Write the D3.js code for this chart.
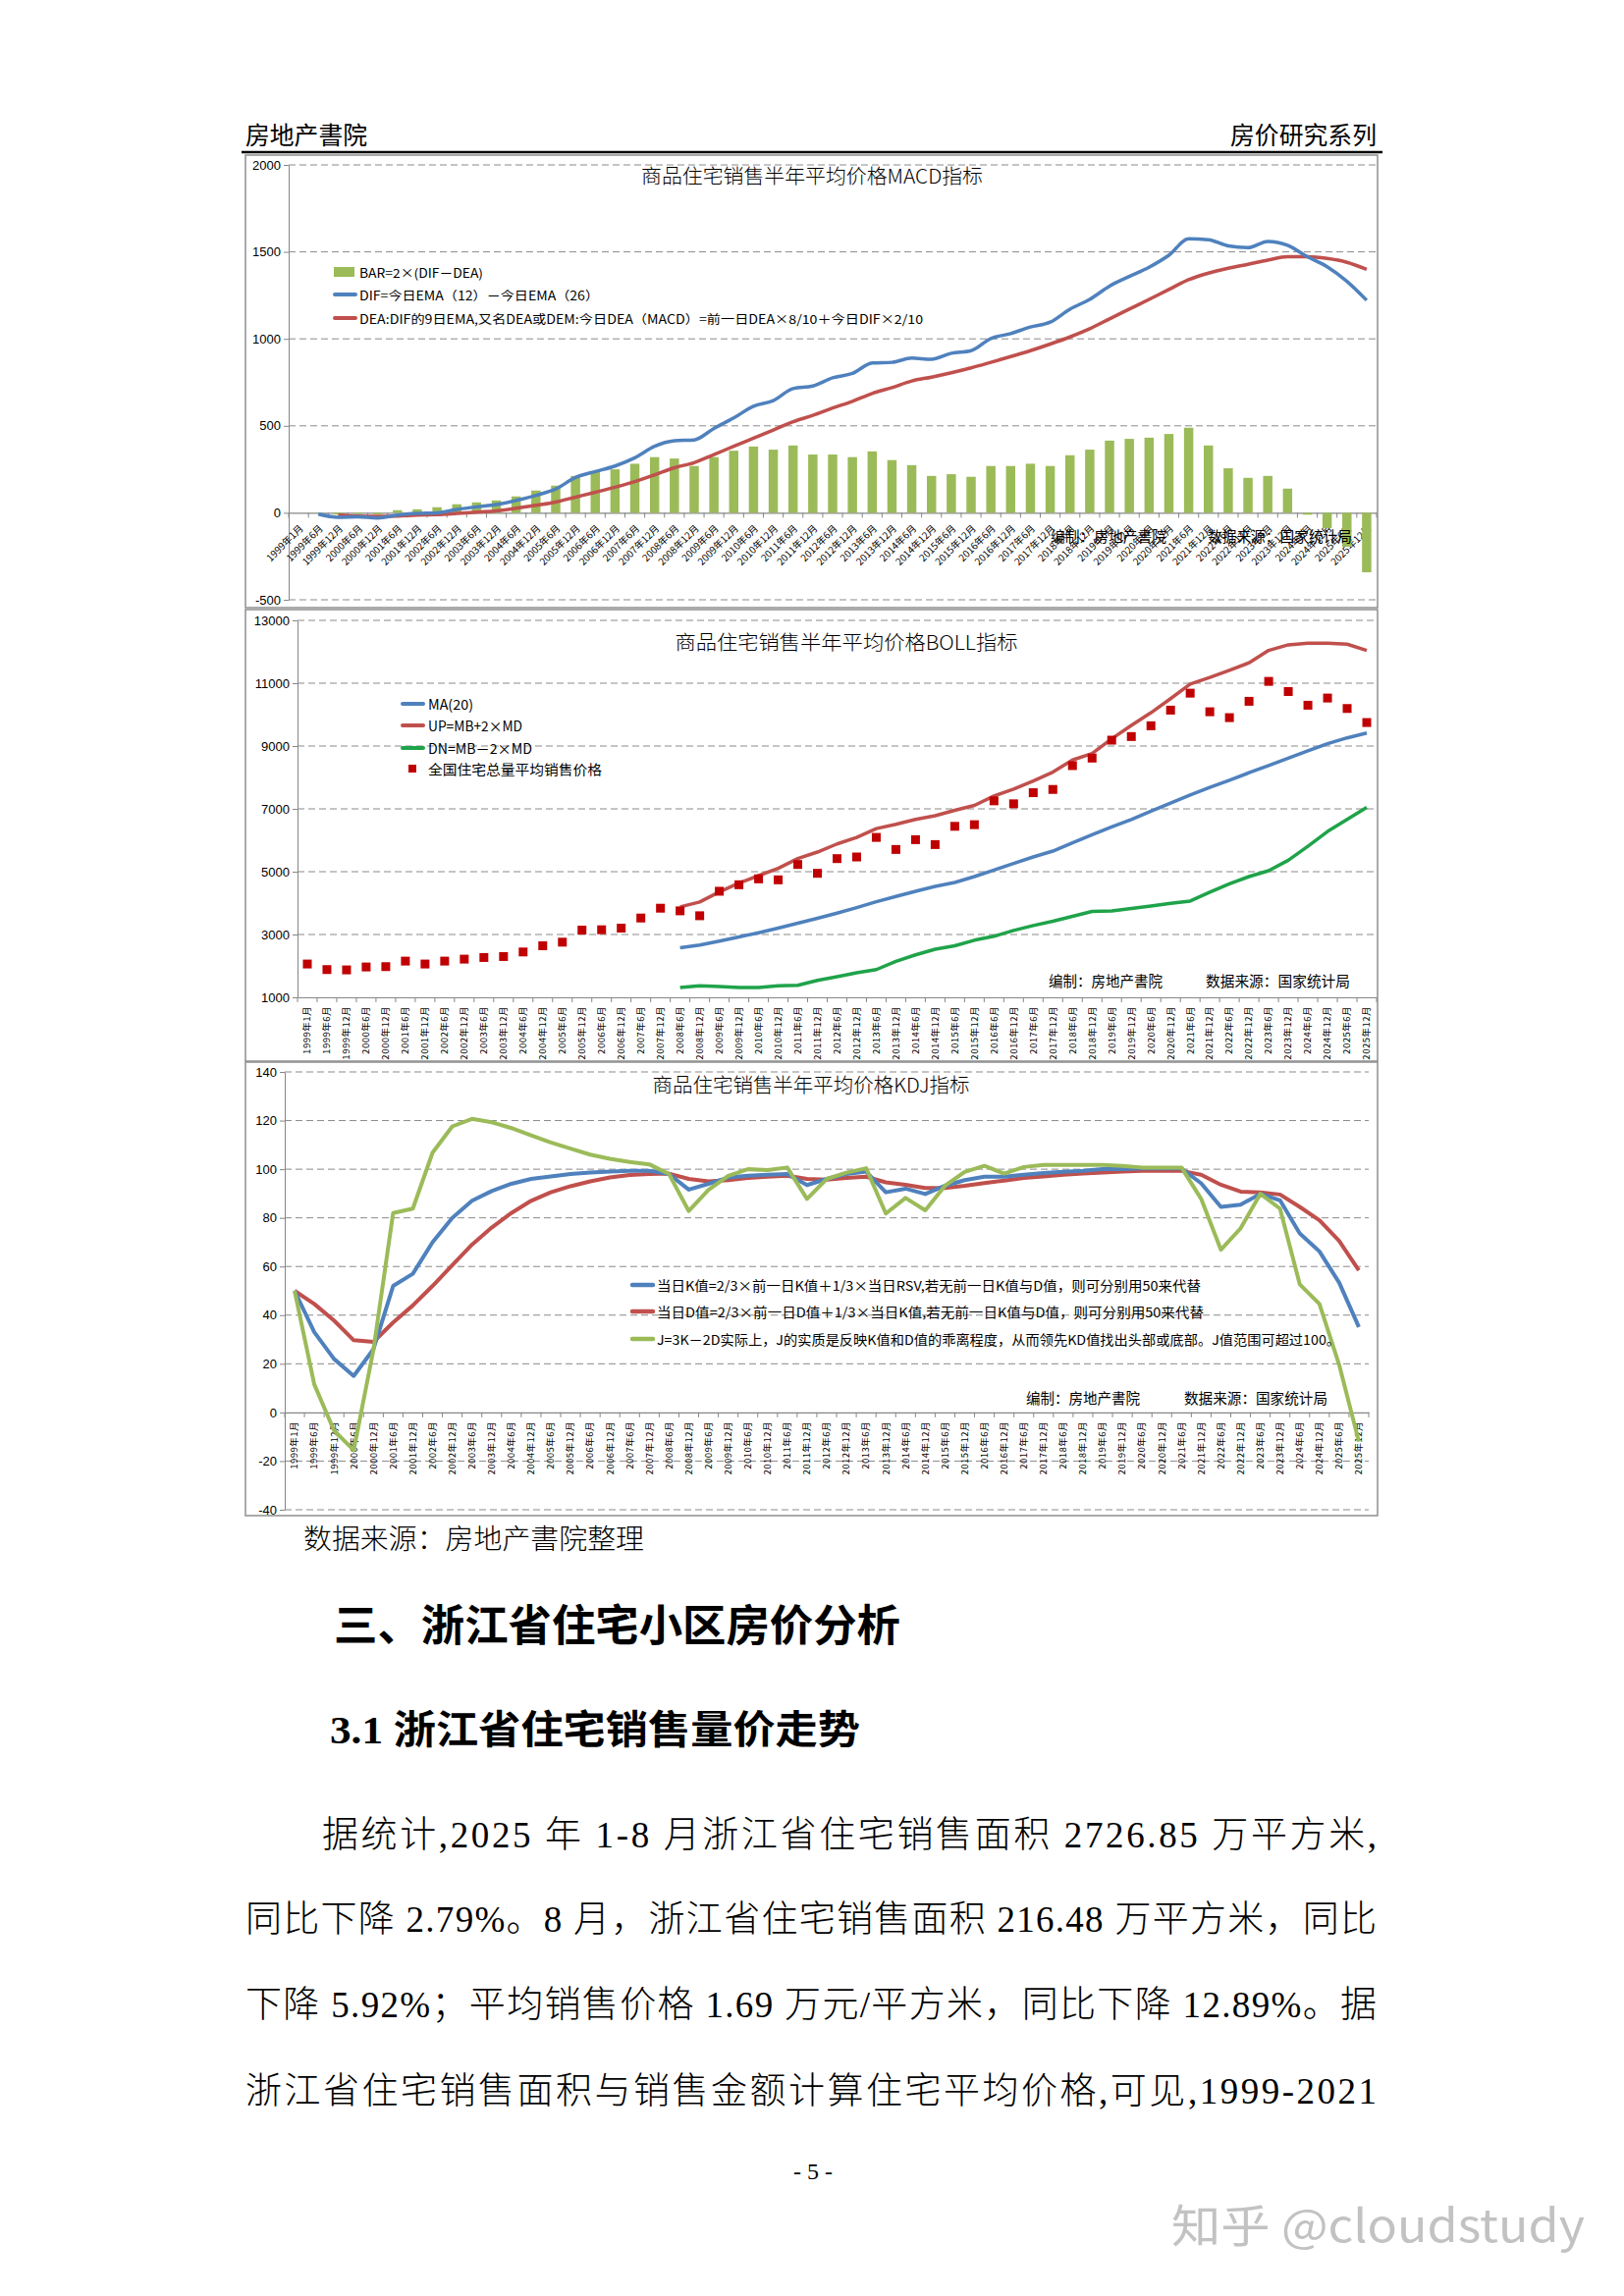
<!DOCTYPE html>
<html><head><meta charset="utf-8">
<script src="https://cdn.jsdelivr.net/npm/d3@7"></script>
<style>
html,body{margin:0;padding:0;background:#fff;}
svg{display:block;}
text{font-family:"Noto Sans CJK SC","Liberation Sans",sans-serif;fill:#000;}
</style></head><body>
<svg id="page" width="1654" height="2339"></svg>
<script>
const categories = ["1999年1月","1999年6月","1999年12月","2000年6月","2000年12月","2001年6月","2001年12月","2002年6月","2002年12月","2003年6月","2003年12月","2004年6月","2004年12月","2005年6月","2005年12月","2006年6月","2006年12月","2007年6月","2007年12月","2008年6月","2008年12月","2009年6月","2009年12月","2010年6月","2010年12月","2011年6月","2011年12月","2012年6月","2012年12月","2013年6月","2013年12月","2014年6月","2014年12月","2015年6月","2015年12月","2016年6月","2016年12月","2017年6月","2017年12月","2018年6月","2018年12月","2019年6月","2019年12月","2020年6月","2020年12月","2021年6月","2021年12月","2022年6月","2022年12月","2023年6月","2023年12月","2024年6月","2024年12月","2025年6月","2025年12月"];

// MACD chart
const macdBar = [null,-2,-10,-6,-8,15,20,32,49,60,71,94,128,156,212,240,250,282,320,312,269,320,357,381,363,387,335,335,320,353,303,274,212,222,207,269,269,282,269,331,363,415,425,432,453,489,387,256,201,212,139,-11,-88,-195,-342];
const macdDIF = [null,-8,-26,-23,-30,-13,-4,0,19,34,47,71,100,137,203,237,269,316,382,414,419,485,545,613,645,714,729,776,801,861,865,889,883,917,932,1002,1030,1068,1096,1171,1227,1303,1359,1412,1481,1575,1570,1534,1524,1560,1538,1472,1415,1331,1222];
const macdDEA = [null,null,-13,-19,-21,-19,-13,-11,-4,4,11,26,43,62,90,118,147,179,218,259,288,335,382,429,476,523,560,602,641,686,720,758,780,805,833,865,898,932,970,1011,1058,1115,1171,1227,1284,1340,1378,1406,1429,1453,1472,1472,1462,1440,1400];
const macdTicks = [-500,0,500,1000,1500,2000];
const macdLegend = ["BAR=2×(DIF－DEA)","DIF=今日EMA（12）－今日EMA（26）","DEA:DIF的9日EMA,又名DEA或DEM:今日DEA（MACD）=前一日DEA×8/10＋今日DIF×2/10"];

// BOLL chart
const bollPrice = [2060,1883,1873,1966,1977,2153,2060,2153,2216,2268,2299,2444,2642,2756,3140,3151,3203,3525,3837,3753,3597,4377,4584,4771,4740,5229,4948,5416,5468,6091,5707,6019,5863,6444,6496,7255,7161,7514,7618,8377,8616,9187,9302,9645,10143,10683,10091,9904,10424,11058,10735,10299,10528,10195,9748];
const bollMA = [null,null,null,null,null,null,null,null,null,null,null,null,null,null,null,null,null,null,null,2579,2662,2787,2922,3057,3203,3359,3515,3681,3857,4044,4210,4377,4530,4657,4844,5052,5260,5468,5655,5915,6174,6424,6663,6923,7182,7442,7681,7910,8149,8377,8616,8845,9073,9260,9416];
const bollUP = [null,null,null,null,null,null,null,null,null,null,null,null,null,null,null,null,null,null,null,3878,4034,4356,4637,4875,5104,5416,5624,5883,6091,6372,6507,6663,6780,6954,7110,7411,7629,7889,8169,8554,8762,9229,9655,10060,10507,10974,11182,11410,11649,12044,12221,12273,12273,12242,12044];
const bollDN = [null,null,null,null,null,null,null,null,null,null,null,null,null,null,null,null,null,null,null,1312,1364,1343,1312,1312,1364,1384,1540,1655,1779,1883,2143,2351,2530,2642,2818,2943,3130,3286,3421,3577,3733,3753,3826,3909,3992,4065,4346,4616,4844,5031,5364,5811,6278,6663,7047];
const bollTicks = [1000,3000,5000,7000,9000,11000,13000];
const bollLegend = ["MA(20)","UP=MB+2×MD","DN=MB－2×MD","全国住宅总量平均销售价格"];

// KDJ chart
const kdjK = [50,33,22,15,26,52,57,70,80,87,91,94,96,97,98,98.6,99,99.3,99.3,98,91.6,94,96.6,97.3,97.7,98,93.5,96,98,99,90.5,92,89.8,93.2,95.5,96.9,96.9,97.7,98.4,98.9,99.3,100,100,100.3,100.3,100.3,94.2,84.5,85.4,89.9,87.2,73.6,66.2,53.4,35.1];
const kdjD = [50,44.6,37.8,29.7,29,37,44,52,60.5,69,76,82,87,90.5,93,95,96.6,97.6,98,98.2,96,95,95.5,96.4,96.9,97.3,96,95.7,96.4,96.9,94.6,93.6,92.3,92.3,93.2,94.3,95.3,96.4,97,97.7,98.2,98.6,99,99.3,99.3,99.3,97.7,93.6,90.8,90.5,89.6,84.5,79,70.5,58.4];
const kdjJ = [50,11.5,-7.4,-15.5,25.7,82,83.8,106.8,117.6,120.7,119.3,116.9,113.9,111,108.5,106,104.3,103,102,98,82.8,91.5,97.3,100,99.6,100.7,87.8,96,98.6,100.4,81.8,88.2,83.1,93.2,98.9,101.4,98.2,100.9,101.8,101.8,101.8,101.8,101.4,100.7,100.7,100.7,87.8,66.9,75.7,89.9,83.8,52.7,44.6,19.6,-12];
const kdjTicks = [-40,-20,0,20,40,60,80,100,120,140];
const kdjLegend = ["当日K值=2/3×前一日K值＋1/3×当日RSV,若无前一日K值与D值，则可分别用50来代替","当日D值=2/3×前一日D值＋1/3×当日K值,若无前一日K值与D值，则可分别用50来代替","J=3K－2D实际上，J的实质是反映K值和D值的乖离程度，从而领先KD值找出头部或底部。J值范围可超过100。"];

const BLUE="#4F81BD", RED="#C0504D", GREEN="#9BBB59", DNGREEN="#1FA34A", SQ="#C00000";
const svg = d3.select("#page");
svg.append("rect").attr("width",1654).attr("height",2339).attr("fill","#fff");

function txt(x,y,s,o){
  o=o||{};
  const t=svg.append("text").attr("x",x).attr("y",y).attr("dominant-baseline","central")
    .attr("font-size",o.size||14).text(s);
  if(o.anchor) t.attr("text-anchor",o.anchor);
  if(o.len) t.attr("textLength",o.len).attr("lengthAdjust",o.adj||"spacingAndGlyphs");
  if(o.weight) t.attr("font-weight",o.weight);
  if(o.family) t.style("font-family",o.family);
  if(o.fill) t.style("fill",o.fill);
  return t;
}

// page header
txt(250,136,"房地产書院",{size:25,len:124});
txt(1402,136,"房价研究系列",{size:25,len:149,anchor:"end"});
svg.append("line").attr("x1",246).attr("x2",1408).attr("y1",155).attr("y2",155).attr("stroke","#000").attr("stroke-width",2.5);

function chart(o){
  const g = svg.append("g");
  g.append("rect").attr("x",o.fx0).attr("y",o.fy0).attr("width",o.fx1-o.fx0).attr("height",o.fy1-o.fy0)
    .attr("fill","#fff").attr("stroke","#8f8f8f").attr("stroke-width",1.5);
  const x = d3.scaleBand().domain(categories).range([o.px0,o.px1]).padding(0);
  const y = d3.scaleLinear().domain(o.domain).range([o.py1,o.py0]);
  g.append("g").selectAll("line").data(o.ticks.filter(t=>t!==o.base)).join("line")
    .attr("x1",o.px0).attr("x2",o.px1).attr("y1",d=>y(d)).attr("y2",d=>y(d))
    .attr("stroke","#8a8a8a").attr("stroke-dasharray","7,4").attr("stroke-width",1);
  const ya = g.append("g").attr("transform",`translate(${o.px0},0)`)
    .call(d3.axisLeft(y).tickValues(o.ticks).tickSizeInner(5).tickSizeOuter(0).tickPadding(3).tickFormat(d=>String(d)));
  ya.select(".domain").attr("stroke","#868686");
  ya.selectAll(".tick line").attr("stroke","#868686");
  ya.selectAll(".tick text").style("font-family","Liberation Sans").attr("font-size",13).style("fill","#000");
  const y0 = y(o.base);
  const xa = g.append("g").attr("transform",`translate(0,${y0})`).call(d3.axisBottom(x).tickSize(0).tickFormat(""));
  xa.select(".domain").attr("stroke","#868686").attr("stroke-width",1.2);
  const bounds = categories.map(c=>x(c)).concat([o.px1]);
  g.append("g").selectAll("line").data(bounds).join("line")
    .attr("x1",d=>d).attr("x2",d=>d).attr("y1",y0).attr("y2",y0+5).attr("stroke","#868686");
  const cx = c => x(c)+x.bandwidth()/2;
  return {g,x,y,y0,cx};
}

function series(arr){ return categories.map((c,i)=>({c,v:arr[i]})); }

// ============ MACD ============
{
  const C = chart({fx0:250,fx1:1403,fy0:158,fy1:619,px0:294,px1:1402,py0:168,py1:611,domain:[-500,2000],ticks:macdTicks,base:0});
  const {g,x,y,y0,cx} = C;
  g.append("g").selectAll("text").data(categories).join("text")
    .attr("transform",d=>`translate(${cx(d)+3},${y0+14}) rotate(-45)`)
    .attr("text-anchor","end").attr("dy","0.35em").attr("font-size",10).text(d=>d);
  const bw = x.bandwidth()*0.47;
  g.append("g").selectAll("rect").data(series(macdBar).filter(d=>d.v!=null)).join("rect")
    .attr("x",d=>cx(d.c)-bw/2).attr("width",bw)
    .attr("y",d=>y(Math.max(0,d.v))).attr("height",d=>Math.abs(y(d.v)-y(0))).attr("fill",GREEN);
  const line = d3.line().defined(d=>d.v!=null).x(d=>cx(d.c)).y(d=>y(d.v)).curve(d3.curveMonotoneX);
  g.append("path").attr("d",line(series(macdDEA))).attr("fill","none").attr("stroke",RED).attr("stroke-width",3.5).attr("stroke-linejoin","round");
  g.append("path").attr("d",line(series(macdDIF))).attr("fill","none").attr("stroke",BLUE).attr("stroke-width",3.5).attr("stroke-linejoin","round");
  txt(827,178,"商品住宅销售半年平均价格MACD指标",{size:20,anchor:"middle",len:348,weight:300});
  svg.append("rect").attr("x",340).attr("y",272).attr("width",21).attr("height",10).attr("fill",GREEN);
  svg.append("line").attr("x1",341).attr("x2",362).attr("y1",300).attr("y2",300).attr("stroke",BLUE).attr("stroke-width",4).attr("stroke-linecap","round");
  svg.append("line").attr("x1",341).attr("x2",362).attr("y1",324).attr("y2",324).attr("stroke",RED).attr("stroke-width",4).attr("stroke-linecap","round");
  txt(366,277,macdLegend[0],{size:12.5,len:126});
  txt(366,300,macdLegend[1],{size:12.5,len:244});
  txt(366,324,macdLegend[2],{size:12.5,len:574});
  txt(1070,545,"编制：房地产書院",{size:15,len:118});
  txt(1230,545,"数据来源：国家统计局",{size:15,len:147});
}

// ============ BOLL ============
{
  const C = chart({fx0:250,fx1:1403,fy0:621,fy1:1081,px0:303,px1:1402,py0:632,py1:1016,domain:[1000,13000],ticks:bollTicks,base:1000});
  const {g,x,y,y0,cx} = C;
  g.append("g").selectAll("text").data(categories).join("text")
    .attr("transform",d=>`translate(${cx(d)},${y0+9}) rotate(-90)`)
    .attr("text-anchor","end").attr("dy","0.35em").attr("font-size",9.5).attr("letter-spacing",0.5).text(d=>d);
  const line = d3.line().defined(d=>d.v!=null).x(d=>cx(d.c)).y(d=>y(d.v));
  g.append("path").attr("d",line(series(bollDN))).attr("fill","none").attr("stroke",DNGREEN).attr("stroke-width",3.5).attr("stroke-linejoin","round");
  g.append("path").attr("d",line(series(bollMA))).attr("fill","none").attr("stroke",BLUE).attr("stroke-width",3.5).attr("stroke-linejoin","round");
  g.append("path").attr("d",line(series(bollUP))).attr("fill","none").attr("stroke",RED).attr("stroke-width",3.5).attr("stroke-linejoin","round");
  const s=9;
  g.append("g").selectAll("rect").data(series(bollPrice)).join("rect")
    .attr("x",d=>cx(d.c)-s/2).attr("y",d=>y(d.v)-s/2).attr("width",s).attr("height",s).attr("fill",SQ);
  txt(862,653,"商品住宅销售半年平均价格BOLL指标",{size:20,anchor:"middle",len:349,weight:300});
  [[BLUE,717],[RED,739],[DNGREEN,762]].forEach(([c,yy])=>{
    svg.append("line").attr("x1",410).attr("x2",431).attr("y1",yy).attr("y2",yy).attr("stroke",c).attr("stroke-width",4).attr("stroke-linecap","round");
  });
  svg.append("rect").attr("x",416).attr("y",779).attr("width",8).attr("height",8).attr("fill",SQ);
  txt(436,717,bollLegend[0],{size:14,len:46});
  txt(436,739,bollLegend[1],{size:14,len:96});
  txt(436,762,bollLegend[2],{size:14,len:106});
  txt(436,783,bollLegend[3],{size:14,len:177});
  txt(1068,998,"编制：房地产書院",{size:15,len:116});
  txt(1228,998,"数据来源：国家统计局",{size:15,len:147});
}

// ============ KDJ ============
{
  const C = chart({fx0:250,fx1:1403,fy0:1082,fy1:1544,px0:290,px1:1394,py0:1092,py1:1538,domain:[-40,140],ticks:kdjTicks,base:0});
  const {g,x,y,y0,cx} = C;
  g.append("g").selectAll("text").data(categories).join("text")
    .attr("transform",d=>`translate(${cx(d)},${y0+9}) rotate(-90)`)
    .attr("text-anchor","end").attr("dy","0.35em").attr("font-size",9.5).attr("letter-spacing",0.5).text(d=>d);
  const line = d3.line().x(d=>cx(d.c)).y(d=>y(d.v));
  g.append("path").attr("d",line(series(kdjD))).attr("fill","none").attr("stroke",RED).attr("stroke-width",4).attr("stroke-linejoin","round");
  g.append("path").attr("d",line(series(kdjK))).attr("fill","none").attr("stroke",BLUE).attr("stroke-width",4).attr("stroke-linejoin","round");
  g.append("path").attr("d",line(series(kdjJ))).attr("fill","none").attr("stroke",GREEN).attr("stroke-width",4).attr("stroke-linejoin","round");
  txt(826,1104,"商品住宅销售半年平均价格KDJ指标",{size:20,anchor:"middle",len:323,weight:300});
  [[BLUE,1309],[RED,1336],[GREEN,1364]].forEach(([c,yy])=>{
    svg.append("line").attr("x1",644).attr("x2",665).attr("y1",yy).attr("y2",yy).attr("stroke",c).attr("stroke-width",4.5).attr("stroke-linecap","round");
  });
  txt(669,1309,kdjLegend[0],{size:13.5,len:554});
  txt(669,1336,kdjLegend[1],{size:13.5,len:557});
  txt(669,1364,kdjLegend[2],{size:13.5,len:696});
  txt(1045,1423,"编制：房地产書院",{size:15,len:116});
  txt(1206,1423,"数据来源：国家统计局",{size:15,len:146});
}

// ============ body text ============
const BODY = '"Liberation Serif","Noto Sans CJK SC",serif';
txt(309,1566,"数据来源：房地产書院整理",{size:28,len:347,weight:300});
txt(340,1653,"三、浙江省住宅小区房价分析",{size:44,weight:700,len:577});
txt(336,1762,"3.1 浙江省住宅销售量价走势",{size:40,weight:700,len:540,family:BODY});
txt(328,1869,"据统计,2025 年 1-8 月浙江省住宅销售面积 2726.85 万平方米,",{size:37,len:1074,adj:"spacing",family:BODY,weight:300});
txt(250,1955,"同比下降 2.79%。8 月，浙江省住宅销售面积 216.48 万平方米，同比",{size:37,len:1152,adj:"spacing",family:BODY,weight:300});
txt(250,2042,"下降 5.92%；平均销售价格 1.69 万元/平方米，同比下降 12.89%。据",{size:37,len:1152,adj:"spacing",family:BODY,weight:300});
txt(250,2130,"浙江省住宅销售面积与销售金额计算住宅平均价格,可见,1999-2021",{size:37,len:1152,adj:"spacing",family:BODY,weight:300});
txt(828,2212,"- 5 -",{size:24,anchor:"middle",family:BODY});
txt(1193,2264,"知乎 @cloudstudy",{size:46,len:421,fill:"#c2c2c2"});
</script>
</body></html>
